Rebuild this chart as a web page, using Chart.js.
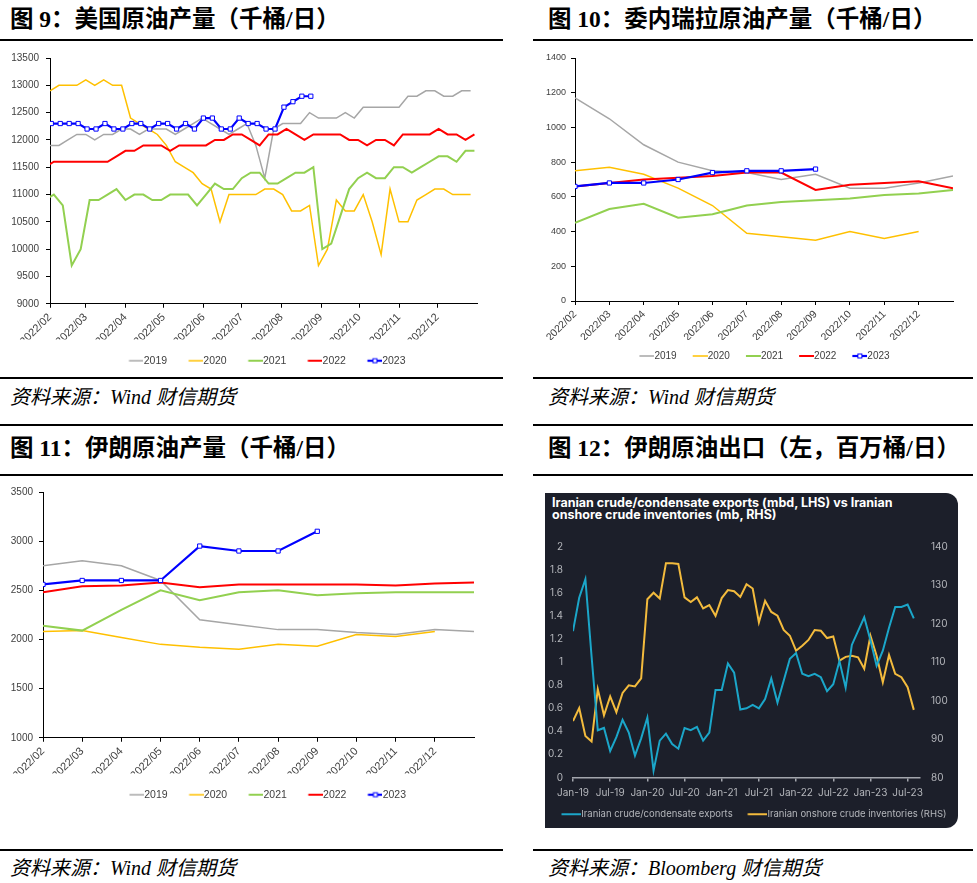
<!DOCTYPE html>
<html>
<head>
<meta charset="utf-8">
<title>原油产量</title>
<script src="https://cdn.jsdelivr.net/npm/chart.js@4.4.1/dist/chart.umd.min.js"></script>
<style>
  html, body { margin: 0; padding: 0; background: #fff; }
  #page { position: relative; width: 977px; height: 883px; overflow: hidden; }
  .ttl { position: absolute; height: 30px; line-height: 30px; font-family: "Liberation Serif", "Noto Sans CJK SC", serif; font-weight: bold; font-size: 23.5px; color: #000; white-space: nowrap; }
  .rule { position: absolute; height: 2px; background: #000; }
  .src { position: absolute; height: 30px; line-height: 30px; font-family: "Liberation Serif", "Noto Sans CJK SC", serif; font-style: italic; font-size: 20px; color: #000; white-space: nowrap; }
  canvas { position: absolute; }
  #panel { position: absolute; left: 545px; top: 493px; width: 413px; height: 335px; background: #1c1f2a; border-radius: 0 12px 12px 0; overflow: hidden; }
  #panelTitle { position: absolute; left: 7px; top: 4px; color: #fff; font-family: Inter, sans-serif; font-weight: 700; font-size: 12.5px; line-height: 12px; white-space: nowrap; }
</style>
</head>
<body>
<div id="page">
  <div class="ttl" style="left:10px;top:4px">图 9：美国原油产量（千桶/日）</div>
  <div class="ttl" style="left:548px;top:4px">图 10：委内瑞拉原油产量（千桶/日）</div>
  <div class="rule" style="left:0;top:39px;width:503px"></div>
  <div class="rule" style="left:533px;top:39px;width:440px"></div>

  <canvas id="usChart" width="490" height="331" style="left:0;top:45px"></canvas>
  <canvas id="venChart" width="444" height="326" style="left:533px;top:45px"></canvas>

  <div class="rule" style="left:0;top:377px;width:503px"></div>
  <div class="rule" style="left:533px;top:377px;width:440px"></div>
  <div class="src" style="left:10px;top:382px">资料来源：Wind 财信期货</div>
  <div class="src" style="left:548px;top:382px">资料来源：Wind 财信期货</div>
  <div class="rule" style="left:0;top:424px;width:503px"></div>
  <div class="rule" style="left:533px;top:424px;width:440px"></div>

  <div class="ttl" style="left:10px;top:433px">图 11：伊朗原油产量（千桶/日）</div>
  <div class="ttl" style="left:548px;top:433px">图 12：伊朗原油出口（左，百万桶/日）</div>
  <div class="rule" style="left:0;top:474px;width:503px"></div>
  <div class="rule" style="left:533px;top:474px;width:440px"></div>

  <canvas id="iranChart" width="490" height="330" style="left:0;top:480px"></canvas>
  <div id="panel">
    <div id="panelTitle">Iranian crude/condensate exports (mbd, LHS) vs Iranian<br>onshore crude inventories (mb, RHS)</div>
    <canvas id="exportChart" width="413" height="336" style="left:0;top:0"></canvas>
  </div>

  <div class="rule" style="left:0;top:849px;width:503px"></div>
  <div class="rule" style="left:533px;top:849px;width:440px"></div>
  <div class="src" style="left:10px;top:853px">资料来源：Wind 财信期货</div>
  <div class="src" style="left:548px;top:853px">资料来源：Bloomberg 财信期货</div>
</div>

<script>
// ---- shared x axis for the seasonal charts ----
const monthLabels = ['2022/02', '2022/03', '2022/04', '2022/05', '2022/06', '2022/07',
  '2022/08', '2022/09', '2022/10', '2022/11', '2022/12'];
// days after 2022/02/01 at which each month starts
const monthStartDays = [0, 28, 59, 89, 120, 150, 181, 212, 242, 273, 303];
const yearEndDay = 334;
const monthIndex = [0, 1, 2, 3, 4, 5, 6, 7, 8, 9, 10];

const years = ['2019', '2020', '2021', '2022', '2023'];
const yearColors = ['#a6a6a6', '#ffc000', '#92d050', '#ff0000', '#0000ff'];
const yearWidths = [1.5, 1.5, 2, 2, 2.2];

// ---- US weekly crude output (kb/d) ----
// first observation of each year, in days after 2022/02/01
const usStartDay = [0, 0, -4, -4, 1];
const us2019 = [11900, 11900, 12000, 12100, 12100, 12000, 12100, 12100, 12200, 12200,
  12100, 12200, 12200, 12200, 12100, 12200, 12300, 12400, 12300, 12200,
  12100, 12200, 12300, 11900, 11300, 12200, 12300, 12300, 12300, 12500,
  12400, 12400, 12400, 12500, 12400, 12600, 12600, 12600, 12600, 12600,
  12800, 12800, 12900, 12900, 12800, 12800, 12900, 12900];
const us2020 = [12900, 13000, 13000, 13000, 13100, 13000, 13100, 13000, 13000, 12400,
  12300, 12200, 12100, 11900, 11600, 11500, 11400, 11200, 11100, 10500,
  11000, 11000, 11000, 11000, 11100, 11100, 11000, 10700, 10700, 10800,
  9700, 10000, 10900, 10700, 10700, 11000, 10500, 9900, 11100, 10500,
  10500, 10900, 11000, 11100, 11100, 11000, 11000, 11000];
const us2021 = [10900,
  11000, 10800, 9700, 10000, 10900, 10900, 11000, 11100, 10900, 11000,
  11000, 10900, 10900, 11000, 11000, 11000, 10800, 11000, 11200, 11100,
  11100, 11300, 11400, 11400, 11200, 11200, 11300, 11400, 11400, 11500,
  10000, 10100, 10600, 11100, 11300, 11400, 11300, 11300, 11500, 11500,
  11400, 11500, 11600, 11700, 11700, 11600, 11800, 11800];
const us2022 = [11500,
  11600, 11600, 11600, 11600, 11600, 11600, 11600, 11700, 11800, 11800,
  11900, 11900, 11900, 11800, 11900, 11900, 11900, 11900, 12000, 12000,
  12100, 12100, 12000, 11900, 12100, 12100, 12200, 12100, 12000, 12100,
  12100, 12100, 12100, 12000, 12000, 11900, 12000, 12000, 11900, 12100,
  12100, 12100, 12100, 12200, 12100, 12100, 12000, 12100];
const us2023 = [12300, 12300, 12300, 12300, 12200, 12200, 12300, 12200, 12200, 12300,
  12300, 12200, 12300, 12300, 12200, 12300, 12200, 12400, 12400, 12200,
  12200, 12400, 12300, 12300, 12200, 12200, 12600, 12700, 12800, 12800];

// ---- Venezuela monthly crude output (kb/d), Feb .. Jan ----
const ven2019 = [1170, 1050, 900, 800, 750, 740, 700, 730, 650, 650, 680, 720];
const ven2020 = [750, 770, 730, 650, 550, 390, 370, 350, 400, 360, 400];
const ven2021 = [450, 530, 560, 480, 500, 550, 570, 580, 590, 610, 620, 640];
const ven2022 = [660, 680, 700, 710, 720, 740, 740, 640, 670, 680, 690, 650];
const ven2023 = [660, 680, 680, 700, 740, 750, 750, 760];

// ---- Iran monthly crude output (kb/d), Feb .. Jan ----
const iran2019 = [2750, 2800, 2750, 2600, 2200, 2150, 2100, 2100, 2070, 2050, 2100, 2080];
const iran2020 = [2080, 2090, 2020, 1950, 1920, 1900, 1950, 1930, 2050, 2030, 2080];
const iran2021 = [2140, 2090, 2300, 2500, 2400, 2480, 2500, 2450, 2470, 2480, 2480, 2480];
const iran2022 = [2480, 2540, 2550, 2580, 2530, 2560, 2560, 2560, 2560, 2550, 2570, 2580];
const iran2023 = [2560, 2600, 2600, 2600, 2950, 2900, 2900, 3100];

// ---- Iran exports (mbd) and onshore inventories (mb), monthly from Jan-19 ----
const exportTickLabels = ['Jan-19', 'Jul-19', 'Jan-20', 'Jul-20', 'Jan-21', 'Jul-21',
  'Jan-22', 'Jul-22', 'Jan-23', 'Jul-23'];
const exportTickMonths = [0, 6, 12, 18, 24, 30, 36, 42, 48, 54];
const iranExports = [1.27, 1.56, 1.72, 1.05, 0.41, 0.43, 0.23, 0.35, 0.50, 0.39,
  0.19, 0.34, 0.52, 0.06, 0.32, 0.38, 0.29, 0.25, 0.43, 0.41,
  0.44, 0.32, 0.39, 0.76, 0.76, 0.99, 0.91, 0.59, 0.60, 0.63,
  0.60, 0.68, 0.86, 0.65, 0.84, 1.03, 1.08, 0.90, 0.88, 0.90,
  0.87, 0.75, 0.81, 1.01, 0.78, 1.15, 1.27, 1.39, 1.19, 0.97,
  1.10, 1.30, 1.48, 1.48, 1.50, 1.38];
const iranInventories = [94.7, 98.1, 90.8, 89.4, 103.0, 96.2, 101.1, 97.0, 102.0, 104.0,
  103.7, 105.8, 126.4, 128.1, 126.6, 135.8, 135.8, 135.6, 126.9, 125.7,
  126.9, 124.0, 124.9, 122.1, 126.7, 128.8, 128.5, 127.0, 130.3, 129.2,
  120.4, 126.0, 123.1, 122.1, 118.4, 116.9, 113.0, 114.3, 115.8, 118.4,
  118.2, 116.3, 116.7, 110.4, 111.4, 111.7, 111.3, 108.3, 116.9, 111.7,
  104.8, 111.9, 107.0, 106.1, 103.5, 97.6];

// line sample used as legend marker: line drawn right after the box start, touching the text
function swatch(color, lineWidth, marker, boxW, gap) {
  const c = document.createElement('canvas');
  c.width = boxW + 2 * gap;
  c.height = 10;
  const g = c.getContext('2d');
  g.strokeStyle = color;
  g.lineWidth = lineWidth;
  g.beginPath();
  g.moveTo(2 * gap, 5);
  g.lineTo(c.width, 5);
  g.stroke();
  if (marker) {
    const mx = 2 * gap + boxW / 2;
    g.fillStyle = '#fff';
    g.lineWidth = 1;
    g.fillRect(mx - 2, 3, 4, 4);
    g.strokeRect(mx - 2, 3, 4, 4);
  }
  return c;
}

// moves the legend sideways (Excel centres it under the plot, not the canvas)
const legendShift = {
  id: 'legendShift',
  afterLayout(chart, args, opts) {
    if (chart.legend && opts.dx) {
      chart.legend.left += opts.dx;
      chart.legend.right += opts.dx;
    }
  }
};

function yearChart(id, o) {
  const datasets = o.series.map((vals, s) => ({
    label: years[s],
    data: vals.map((v, k) => ({ x: o.xOf(s, k), y: v })),
    borderColor: yearColors[s],
    backgroundColor: yearColors[s],
    borderWidth: yearWidths[s],
    pointRadius: s === 4 ? 3 : 0,
    pointStyle: 'rect',
    pointBackgroundColor: '#fff',
    pointBorderColor: yearColors[s],
    pointBorderWidth: 1,
    order: 5 - s,
    tension: 0,
    fill: false
  }));
  const boxW = 15, gap = o.legendFont / 2;
  return new Chart(document.getElementById(id), {
    type: 'line',
    data: { datasets },
    plugins: [legendShift],
    options: {
      responsive: false,
      animation: false,
      layout: { padding: { left: 0, right: o.padRight, top: o.padTop, bottom: 0 } },
      plugins: {
        tooltip: { enabled: false },
        legendShift: { dx: o.legendDx },
        legend: {
          position: 'bottom',
          labels: {
            usePointStyle: true,
            pointStyleWidth: boxW,
            boxHeight: o.legendFont,
            padding: o.legendPad,
            color: '#404040',
            font: { family: 'Liberation Sans', size: o.legendFont },
            generateLabels: chart => chart.data.datasets.map((ds, i) => ({
              text: ds.label,
              datasetIndex: i,
              hidden: false,
              fillStyle: 'transparent',
              strokeStyle: 'transparent',
              lineWidth: 0,
              fontColor: '#404040',
              pointStyle: swatch(ds.borderColor, ds.borderWidth, i === 4, boxW, gap)
            }))
          }
        }
      },
      scales: {
        x: {
          type: 'linear',
          min: 0,
          max: o.xMax,
          afterBuildTicks: s => { s.ticks = o.xTicks.map(v => ({ value: v })); },
          afterFit: s => { s.height = o.xAxisH; },
          ticks: {
            autoSkip: false,
            maxRotation: 45,
            minRotation: 45,
            padding: 3,
            color: '#404040',
            font: { family: 'Liberation Sans', size: o.xFont },
            callback: (v, i) => monthLabels[i]
          },
          grid: { drawOnChartArea: false, drawTicks: true, tickLength: 4, color: '#000' },
          border: { color: '#000', width: 1 }
        },
        y: {
          min: o.yMin,
          max: o.yMax,
          afterFit: s => { s.width = o.yAxisW; },
          ticks: {
            stepSize: o.yStep,
            padding: o.yPad,
            color: '#404040',
            font: { family: 'Liberation Sans', size: o.yFont },
            callback: v => v
          },
          grid: { drawOnChartArea: false, drawTicks: true, tickLength: 4, color: '#000' },
          border: { color: '#000', width: 1 }
        }
      }
    }
  });
}

yearChart('usChart', {
  series: [us2019, us2020, us2021, us2022, us2023],
  xOf: (s, k) => usStartDay[s] + 7 * k,
  xTicks: monthStartDays, xMax: yearEndDay,
  yMin: 9000, yMax: 13500, yStep: 500,
  yAxisW: 50, padTop: 9, padRight: 13, xAxisH: 35.75,
  legendFont: 10.5, legendPad: 16, legendDx: 26,
  xFont: 11, yFont: 10, yPad: 7
});

yearChart('venChart', {
  series: [ven2019, ven2020, ven2021, ven2022, ven2023],
  xOf: (s, k) => k,
  xTicks: monthIndex, xMax: 11,
  yMin: 0, yMax: 1400, yStep: 200,
  yAxisW: 42, padTop: 13, padRight: 24, xAxisH: 39,
  legendFont: 10, legendPad: 11, legendDx: 19,
  xFont: 10.5, yFont: 9, yPad: 5
});

yearChart('iranChart', {
  series: [iran2019, iran2020, iran2021, iran2022, iran2023],
  xOf: (s, k) => k,
  xTicks: monthIndex, xMax: 11,
  yMin: 1000, yMax: 3500, yStep: 500,
  yAxisW: 43, padTop: 7, padRight: 16, xAxisH: 35.75,
  legendFont: 10.5, legendPad: 16, legendDx: 28,
  xFont: 11, yFont: 10, yPad: 6
});

// ---- dark Bloomberg-style panel ----
const cyan = '#1ba6c9';
const amber = '#f3bb3d';
new Chart(document.getElementById('exportChart'), {
  type: 'line',
  data: {
    datasets: [
      {
        label: 'Iranian crude/condensate exports',
        data: iranExports.map((v, i) => ({ x: i, y: v })),
        yAxisID: 'y',
        borderColor: cyan, borderWidth: 2, pointRadius: 0, tension: 0
      },
      {
        label: 'Iranian onshore crude inventories (RHS)',
        data: iranInventories.map((v, i) => ({ x: i, y: v })),
        yAxisID: 'y1',
        borderColor: amber, borderWidth: 2, pointRadius: 0, tension: 0
      }
    ]
  },
  options: {
    responsive: false,
    animation: false,
    layout: { padding: { left: 0, right: 0, top: 54, bottom: 0 } },
    plugins: {
      tooltip: { enabled: false },
      legend: {
        position: 'bottom',
        labels: {
          usePointStyle: true,
          pointStyleWidth: 20,
          boxHeight: 9.5,
          padding: 10,
          color: '#b4b6bb',
          font: { family: 'Inter', size: 9.5 },
          generateLabels: chart => chart.data.datasets.map((ds, i) => ({
            text: ds.label,
            datasetIndex: i,
            hidden: false,
            fillStyle: 'transparent',
            strokeStyle: 'transparent',
            lineWidth: 0,
            fontColor: '#b4b6bb',
            pointStyle: swatch(ds.borderColor, 2, false, 20, 4.75)
          }))
        }
      }
    },
    scales: {
      x: {
        type: 'linear',
        min: 0,
        max: 56,
        afterBuildTicks: s => { s.ticks = exportTickMonths.map(v => ({ value: v })); },
        afterFit: s => { s.height = 22; },
        ticks: {
          autoSkip: false, maxRotation: 0, padding: 5,
          color: '#b4b6bb',
          font: { family: 'Inter', size: 10 },
          callback: (v, i) => exportTickLabels[i]
        },
        grid: { drawOnChartArea: false, drawTicks: true, tickLength: 4, color: '#a3a6ad', lineWidth: 1.5 },
        border: { color: '#a3a6ad', width: 1.5 }
      },
      y: {
        position: 'left',
        min: 0, max: 2,
        afterFit: s => { s.width = 28; },
        ticks: {
          stepSize: 0.2, padding: 10,
          color: '#b4b6bb',
          font: { family: 'Inter', size: 10 },
          callback: v => String(Math.round(v * 10) / 10)
        },
        grid: { display: false, drawTicks: false },
        border: { display: false }
      },
      y1: {
        position: 'right',
        min: 80, max: 140,
        afterFit: s => { s.width = 38; },
        ticks: {
          stepSize: 10, padding: 11,
          color: '#b4b6bb',
          font: { family: 'Inter', size: 10 },
          callback: v => v
        },
        grid: { display: false, drawTicks: false },
        border: { display: false }
      }
    }
  }
});
</script>
</body>
</html>
